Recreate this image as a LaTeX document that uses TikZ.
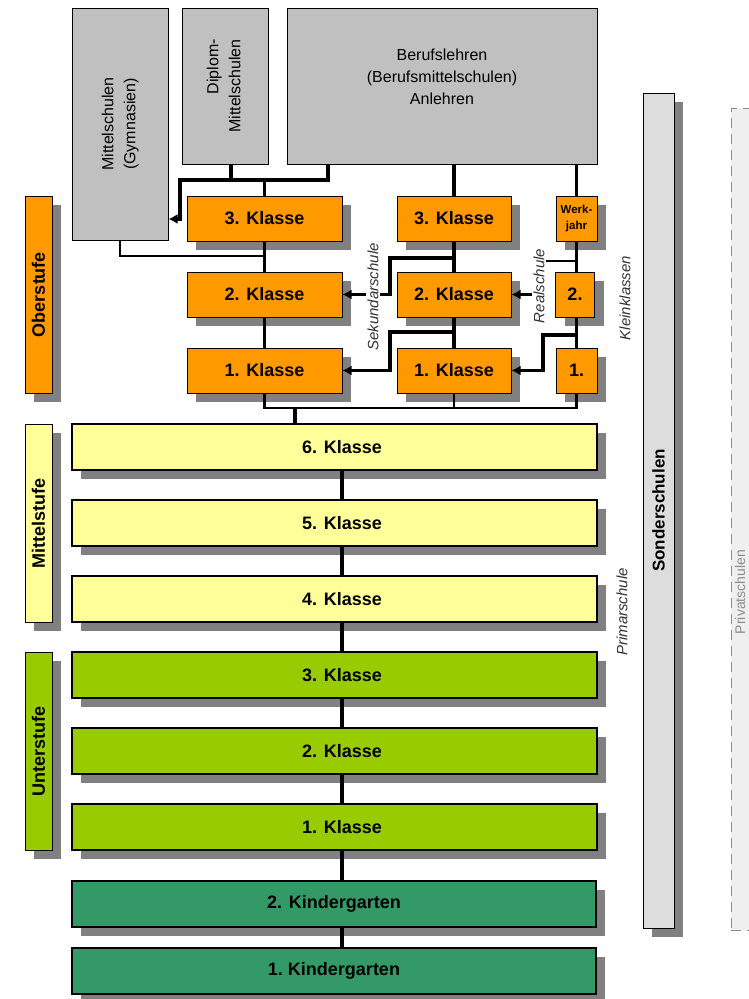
\documentclass[tikz,border=0pt]{standalone}
\usepackage{fontspec}
\setmainfont{Liberation Sans}
\usepackage{graphicx}
\usetikzlibrary{shadows,arrows.meta,calc}
\definecolor{orng}{HTML}{FF9900}
\definecolor{ylw}{HTML}{FFFF99}
\definecolor{grn}{HTML}{99CC00}
\definecolor{dkgrn}{HTML}{339966}
\definecolor{gbox}{HTML}{C0C0C0}
\definecolor{sond}{HTML}{DDDDDD}
\definecolor{shd}{HTML}{808080}
\definecolor{privfill}{HTML}{EFEFEF}
\definecolor{privline}{HTML}{8C8C8C}
\definecolor{labtext}{HTML}{333333}
\begin{document}
\begin{tikzpicture}[x=1pt,y=-1pt,
  shadowed/.style={drop shadow={shadow xshift=9pt,shadow yshift=-9pt,fill=shd,opacity=1}},
  box/.style={draw=black,line width=1pt,inner sep=0pt,font=\fontsize{18}{20}\selectfont\bfseries,shadowed},
  widebox/.style={box,line width=1.4pt,minimum width=525pt,minimum height=46pt},
  obox/.style={box,fill=orng,minimum height=45pt},
  grbox/.style={draw=black,line width=1pt,fill=gbox,inner sep=0pt,font=\fontsize{16}{22}\selectfont},
  stage/.style={box,minimum width=27pt,font=\fontsize{18}{20}\selectfont\bfseries},
  conn/.style={line width=3.2pt,line join=miter},
  thinconn/.style={line width=2.8pt,line join=miter},
  hairconn/.style={line width=1.6pt},
  spine/.style={line width=3.6pt},
  arr/.style={conn,-{Latex[length=9pt,width=10pt]}},
  itlab/.style={font=\itshape\fontsize{15}{15}\selectfont,text=labtext,inner sep=1.5pt}]
\useasboundingbox (0,0) rectangle (749,999);
\clip (0,0) rectangle (749,999);

% top grey boxes
\node[grbox,minimum width=96pt,minimum height=232pt] (mittel) at (120,124)
  {\rotatebox{90}{\begin{tabular}{@{}c@{}}Mittelschulen\\(Gymnasien)\end{tabular}}};
\node[grbox,minimum width=86pt,minimum height=156pt] (diplom) at (225,86)
  {\rotatebox{90}{\begin{tabular}{@{}r@{}}Diplom-\\Mittelschulen\end{tabular}}};
\node[grbox,minimum width=310pt,minimum height=156pt,
  label={[align=center,yshift=9pt,font=\fontsize{16}{22}\selectfont]center:Berufslehren\\(Berufsmittelschulen)\\Anlehren}] (beruf) at (442,86) {};

% special and private schools
\node[draw=privline,dash pattern=on 10pt off 6pt,line width=0.8pt,fill=privfill,
  minimum width=24pt,minimum height=822pt,inner sep=0pt] (priv) at (743,519) {};
\node[text=privline,font=\fontsize{14}{14}\selectfont,inner sep=1pt] (privlab) at (740,592)
  {\rotatebox{90}{Privatschulen}};
\node[box,fill=sond,minimum width=31pt,minimum height=835pt,font=\fontsize{17}{20}\selectfont\bfseries] (sonder) at (658.5,510.5)
  {\rotatebox{90}{Sonderschulen}};

% stage labels
\node[stage,fill=orng,minimum height=197pt] (ober) at (38.5,294.5) {\rotatebox{90}{Oberstufe}};
\node[stage,fill=ylw,minimum height=198pt] (mitte) at (38.5,523) {\rotatebox{90}{Mittelstufe}};
\node[stage,fill=grn,minimum height=198pt] (unter) at (38.5,751) {\rotatebox{90}{Unterstufe}};

% Oberstufe
\node[obox,minimum width=155pt] (o3l) at (264.5,218.5) {3. Klasse};
\node[obox,minimum width=155pt] (o2l) at (264.5,294.5) {2. Klasse};
\node[obox,minimum width=155pt] (o1l) at (264.5,370.5) {1. Klasse};
\node[obox,minimum width=114pt] (o3m) at (454,218.5) {3. Klasse};
\node[obox,minimum width=114pt] (o2m) at (454,294.5) {2. Klasse};
\node[obox,minimum width=114pt] (o1m) at (454,370.5) {1. Klasse};
\node[obox,minimum width=41pt,font=\fontsize{11.5}{16}\selectfont\bfseries] (werk) at (576.5,218.5)
  {\begin{tabular}{@{}c@{}}Werk-\\jahr\end{tabular}};
\node[obox,minimum width=39pt] (r2) at (575,294.5) {2.};
\node[obox,minimum width=41pt] (r1) at (576.5,370.5) {1.};

% Primarschule
\node[widebox,fill=ylw] (k6) at (334.5,447) {\hspace*{15pt}6. Klasse};
\node[widebox,fill=ylw] (k5) at (334.5,523) {\hspace*{15pt}5. Klasse};
\node[widebox,fill=ylw] (k4) at (334.5,599) {\hspace*{15pt}4. Klasse};
\node[widebox,fill=grn] (k3) at (334.5,675) {\hspace*{15pt}3. Klasse};
\node[widebox,fill=grn] (k2) at (334.5,751) {\hspace*{15pt}2. Klasse};
\node[widebox,fill=grn] (k1) at (334.5,827) {\hspace*{15pt}1. Klasse};
\node[widebox,fill=dkgrn,minimum width=524pt] (kg2) at (334,904) {2. Kindergarten};
\node[widebox,fill=dkgrn,minimum width=524pt] (kg1) at (334,971) {1.\ Kindergarten};

% junction coordinates
\coordinate (tbL) at (180,180);
\coordinate (tbR) at (328,180);
\coordinate (dj) at ($(diplom.south)+(6,0)$);
\coordinate (j2) at (0,256);
\coordinate (bus) at (0,408);
\coordinate (busC) at (295,408);
\coordinate (sp) at (342,0);
\coordinate (s2) at (390,258);
\coordinate (s1) at (390,332);
\coordinate (q2) at (541,261);
\coordinate (q1) at (543,335);

% top connectors
\draw[arr] (beruf.south -| tbR) |- (tbL) |- ([yshift=-95pt]mittel.east);
\draw[conn] (dj) -- (dj |- tbL);
\draw[conn] (o3l.north) -- (o3l.north |- tbL);
\draw[thinconn] (mittel.south) |- (o3l.south |- j2);

% left column
\draw[thinconn] (o3l.south) -- (o2l.north);
\draw[thinconn] (o2l.south) -- (o1l.north);
% bus
\draw[thinconn] (o1l.south) |- (r1.south |- bus) -- (r1.south);
\draw[thinconn] (o1m.south) -- (o1m.south |- bus);
\draw[spine] (busC) -- (busC |- k6.north);

% middle column
\draw[conn] (beruf.south -| o3m.north) -- (o3m.north);
\draw[conn] (o3m.south) -- (o2m.north);
\draw[conn] (o2m.south) -- (o1m.north);
\draw[arr] (o3m.south |- s2) -- (s2) |- (o2l.east);
\draw[arr] (o2m.south |- s1) -- (s1) |- (o1l.east);

% right column
\draw[conn] (beruf.south -| werk.north) -- (werk.north);
\draw[conn] (werk.south) -- (werk.south |- r2.north);
\draw[conn] (werk.south |- r2.south) -- (r1.north);
\draw[hairconn] (werk.south |- q2) -- (q2);
\draw[arr] (q2) |- (o2m.east);
\draw[arr] (werk.south |- q1) -- (q1) |- (o1m.east);

% primary spine
\foreach \a/\b in {k6/k5,k5/k4,k4/k3,k3/k2,k2/k1,k1/kg2,kg2/kg1}
  \draw[spine] (\a.south -| sp) -- (\b.north -| sp);

% italic labels
\node[itlab,fill=white] (sek) at (373,297) {\rotatebox{90}{Sekundarschule}};
\node[itlab,fill=white] (real) at (539,286) {\rotatebox{90}{Realschule}};
\node[itlab] (klein) at (625,298) {\rotatebox{90}{Kleinklassen}};
\node[itlab] (prim) at (622,612) {\rotatebox{90}{Primarschule}};
\end{tikzpicture}
\end{document}
